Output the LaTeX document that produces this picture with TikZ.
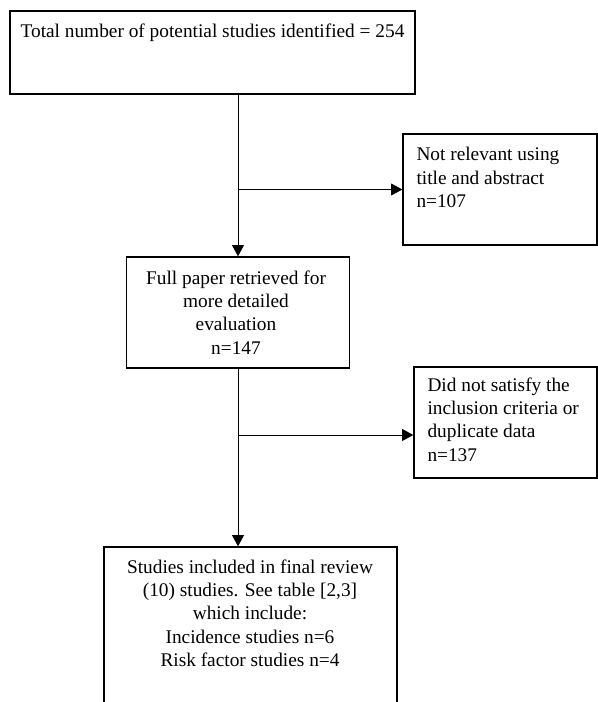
\documentclass[tikz,border=0pt]{standalone}
\usepackage{fontspec}
\setmainfont{Liberation Serif}
\usetikzlibrary{arrows.meta}

\tikzset{every picture/.style={line width=0.75pt}}
\tikzset{
  flowbox/.style={draw, line width=1pt, inner sep=0pt},
  boxtext/.style={inner sep=0pt, font=\fontsize{14.5}{17.5}\selectfont},
  flowarrow/.style={-{Triangle[length=8.5pt,width=9pt]}}
}

\begin{document}
\begin{tikzpicture}[x=0.75pt,y=0.75pt,yscale=-1,xscale=1]
\clip (0,0) rectangle (598,702);
\fill[white] (0,0) rectangle (598,702);

%Shape: Rectangle
\node[flowbox, minimum width=303.75pt, minimum height=62.25pt] (total) at (212.5,52.5) {};
%Shape: Rectangle
\node[flowbox, minimum width=167.25pt, minimum height=83.25pt] (full) at (238,312.5) {};
%Shape: Rectangle
\node[flowbox, minimum width=145.5pt, minimum height=83.25pt] (notrel) at (500,189.5) {};
%Shape: Rectangle
\node[flowbox, minimum width=137.25pt, minimum height=83.25pt] (dup) at (505.5,422.5) {};
%Shape: Rectangle
\node[flowbox, minimum width=219.75pt, minimum height=124.5pt] (studies) at (250.5,630) {};

%Straight Lines
\draw[flowarrow] (total.south -| full.north) -- (full.north);
\draw[flowarrow] (full.north |- notrel.west) -- (notrel.west);
\draw[flowarrow] (full.south) -- (full.south |- studies.north);
\coordinate (split) at (238,435);
\draw[flowarrow] (split) -- (split -| dup.west);

% Text Node
\node[boxtext, anchor=north] (total-t) at (212.5,23) {Total number of potential studies identified = 254};
% Text Node
\node[boxtext, anchor=north, align=center] (full-t) at (236,270) {Full paper retrieved for\\more detailed\\evaluation\\n=147};
% Text Node
\node[boxtext, anchor=north west, align=left] (notrel-t) at (416,147) {Not relevant using\\title and abstract\\n=107};
% Text Node
\node[boxtext, anchor=north west, align=left] (dup-t) at (427,377) {Did not satisfy the\\inclusion criteria or\\duplicate data\\n=137};
% Text Node
\node[boxtext, anchor=north, align=center] (studies-t) at (250,559) {Studies included in final review\\(10) studies. See table [2,3]\\which include:\\Incidence studies n=6\\Risk factor studies n=4};

\end{tikzpicture}
\end{document}
